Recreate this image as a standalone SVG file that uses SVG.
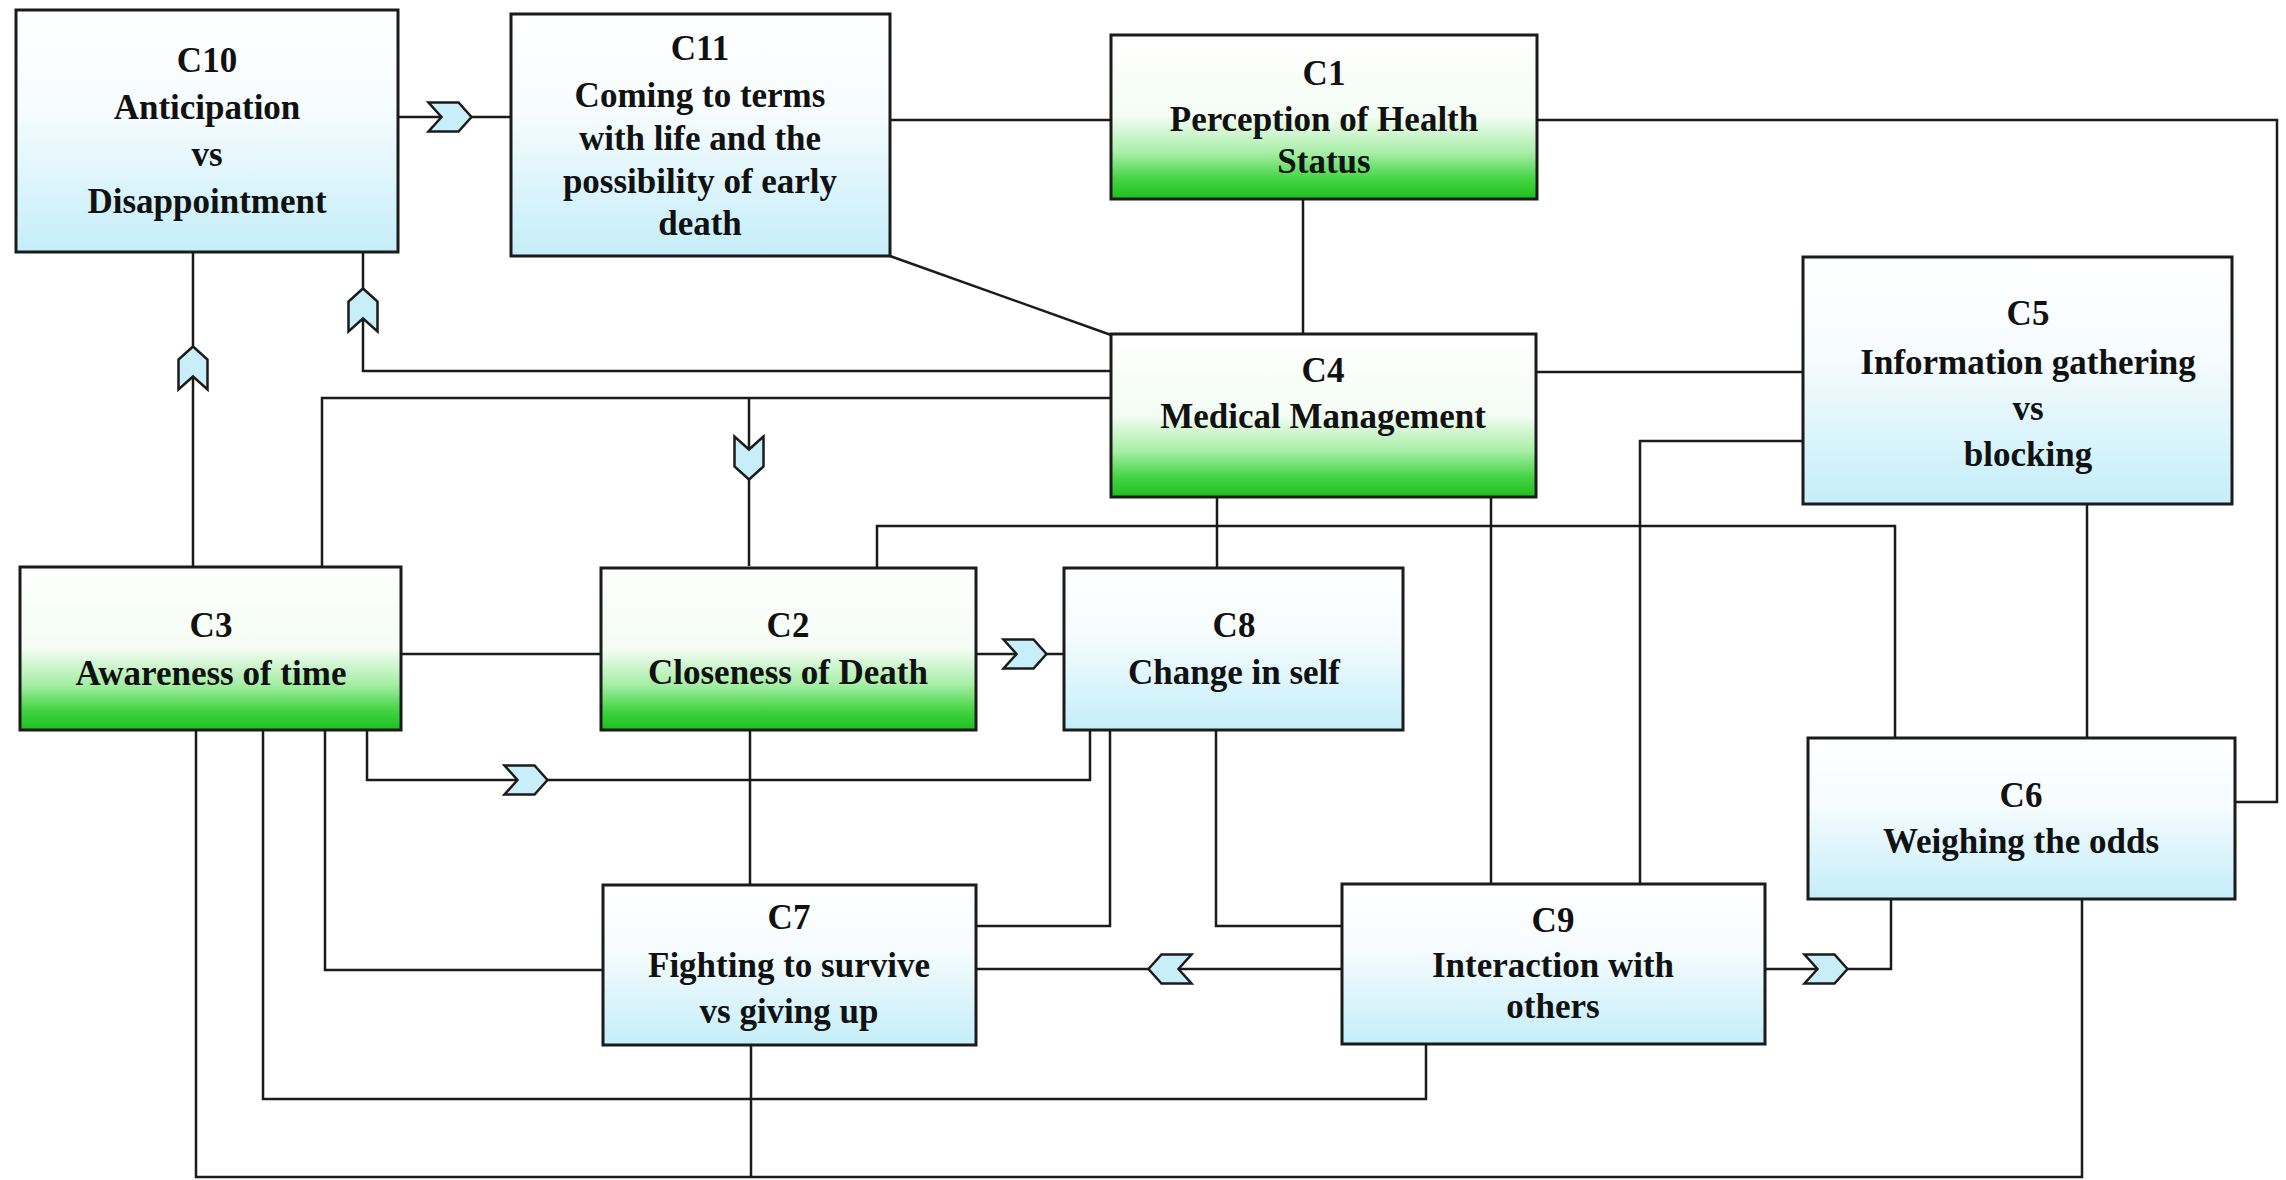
<svg xmlns="http://www.w3.org/2000/svg" xmlns:xlink="http://www.w3.org/1999/xlink" width="2286" height="1180" viewBox="0 0 2286 1180">
<style>
.box{stroke:#1b1b1b;stroke-width:3}
.blue{fill:url(#gBlue)}
.green{fill:url(#gGreen)}
.t{font-family:"Liberation Serif","Times New Roman",serif;font-weight:bold;font-size:35px;fill:#111;text-anchor:middle}
.ln{fill:none;stroke:#1b1b1b;stroke-width:2.5}
.chev{fill:#c8eef9;stroke:#1b1b1b;stroke-width:2.5;stroke-linejoin:miter}
</style>
<defs>
<linearGradient id="gBlue" x1="0" y1="0" x2="0" y2="1">
<stop offset="0" stop-color="#ffffff"/>
<stop offset="0.4" stop-color="#f7fcfe"/>
<stop offset="1" stop-color="#c4eef9"/>
</linearGradient>
<linearGradient id="gGreen" x1="0" y1="0" x2="0" y2="1">
<stop offset="0" stop-color="#ffffff"/>
<stop offset="0.5" stop-color="#f4fcf4"/>
<stop offset="0.72" stop-color="#a6eea6"/>
<stop offset="0.88" stop-color="#42d442"/>
<stop offset="1" stop-color="#1fbf1f"/>
</linearGradient>
<path id="chev" d="M-21.5,-14.5 L8.5,-14.5 L21.5,0 L8.5,14.5 L-21.5,14.5 L-8.5,0 Z"/>
</defs>
<rect width="2286" height="1180" fill="#ffffff"/>

<g id="connectors">
<path class="ln" d="M398,117 H511"/>
<path class="ln" d="M890,120 H1111"/>
<path class="ln" d="M890,256 L1111,335"/>
<path class="ln" d="M1303,199 V334"/>
<path class="ln" d="M1537,120 H2277 V802 H2235"/>
<path class="ln" d="M1111,371 H363 V252"/>
<path class="ln" d="M193,566 V252"/>
<path class="ln" d="M1111,398 H322 V566"/>
<path class="ln" d="M749,398 V566"/>
<path class="ln" d="M1536,372 H1803"/>
<path class="ln" d="M1803,441 H1640 V884"/>
<path class="ln" d="M1217,497 V568"/>
<path class="ln" d="M1491,497 V884"/>
<path class="ln" d="M877,568 V526 H1895 V738"/>
<path class="ln" d="M2087,504 V738"/>
<path class="ln" d="M401,654 H601"/>
<path class="ln" d="M976,654 H1064"/>
<path class="ln" d="M367,730 V780 H1090 V730"/>
<path class="ln" d="M750,730 V885"/>
<path class="ln" d="M1110,730 V926 H976"/>
<path class="ln" d="M1216,730 V926 H1342"/>
<path class="ln" d="M325,730 V970 H603"/>
<path class="ln" d="M1342,969 H976"/>
<path class="ln" d="M1765,969 H1891 V899"/>
<path class="ln" d="M263,730 V1099 H1426 V1044"/>
<path class="ln" d="M196,730 V1177 H2082 V899"/>
<path class="ln" d="M751,1045 V1177"/>
<use xlink:href="#chev" class="chev" transform="translate(450,117)"/>
<use xlink:href="#chev" class="chev" transform="translate(363,310) rotate(-90)"/>
<use xlink:href="#chev" class="chev" transform="translate(193,368) rotate(-90)"/>
<use xlink:href="#chev" class="chev" transform="translate(749,458) rotate(90)"/>
<use xlink:href="#chev" class="chev" transform="translate(1025,654)"/>
<use xlink:href="#chev" class="chev" transform="translate(526,780)"/>
<use xlink:href="#chev" class="chev" transform="translate(1170,969) rotate(180)"/>
<use xlink:href="#chev" class="chev" transform="translate(1826,969)"/>
</g>

<g id="C10">
<rect class="box blue" x="16" y="10" width="382" height="242"/>
<text class="t" x="207" y="72">C10</text>
<text class="t" x="207" y="119">Anticipation</text>
<text class="t" x="207" y="166">vs</text>
<text class="t" x="207" y="213">Disappointment</text>
</g>
<g id="C11">
<rect class="box blue" x="511" y="14" width="379" height="242"/>
<text class="t" x="700" y="60">C11</text>
<text class="t" x="700" y="107">Coming to terms</text>
<text class="t" x="700" y="150">with life and the</text>
<text class="t" x="700" y="193">possibility of early</text>
<text class="t" x="700" y="235">death</text>
</g>
<g id="C1">
<rect class="box green" x="1111" y="35" width="426" height="164"/>
<text class="t" x="1324" y="85">C1</text>
<text class="t" x="1324" y="131">Perception of Health</text>
<text class="t" x="1324" y="173">Status</text>
</g>
<g id="C4">
<rect class="box green" x="1111" y="334" width="425" height="163"/>
<text class="t" x="1323" y="382">C4</text>
<text class="t" x="1323" y="428">Medical Management</text>
</g>
<g id="C5">
<rect class="box blue" x="1803" y="257" width="429" height="247"/>
<text class="t" x="2028" y="325">C5</text>
<text class="t" x="2028" y="374">Information gathering</text>
<text class="t" x="2028" y="420">vs</text>
<text class="t" x="2028" y="466">blocking</text>
</g>
<g id="C3">
<rect class="box green" x="20" y="567" width="381" height="163"/>
<text class="t" x="211" y="637">C3</text>
<text class="t" x="211" y="685">Awareness of time</text>
</g>
<g id="C2">
<rect class="box green" x="601" y="568" width="375" height="162"/>
<text class="t" x="788" y="637">C2</text>
<text class="t" x="788" y="684">Closeness of Death</text>
</g>
<g id="C8">
<rect class="box blue" x="1064" y="568" width="339" height="162"/>
<text class="t" x="1234" y="637">C8</text>
<text class="t" x="1234" y="684">Change in self</text>
</g>
<g id="C6">
<rect class="box blue" x="1808" y="738" width="427" height="161"/>
<text class="t" x="2021" y="807">C6</text>
<text class="t" x="2021" y="853">Weighing the odds</text>
</g>
<g id="C7">
<rect class="box blue" x="603" y="885" width="373" height="160"/>
<text class="t" x="789" y="929">C7</text>
<text class="t" x="789" y="977">Fighting to survive</text>
<text class="t" x="789" y="1023">vs giving up</text>
</g>
<g id="C9">
<rect class="box blue" x="1342" y="884" width="423" height="160"/>
<text class="t" x="1553" y="932">C9</text>
<text class="t" x="1553" y="977">Interaction with</text>
<text class="t" x="1553" y="1018">others</text>
</g>
</svg>
